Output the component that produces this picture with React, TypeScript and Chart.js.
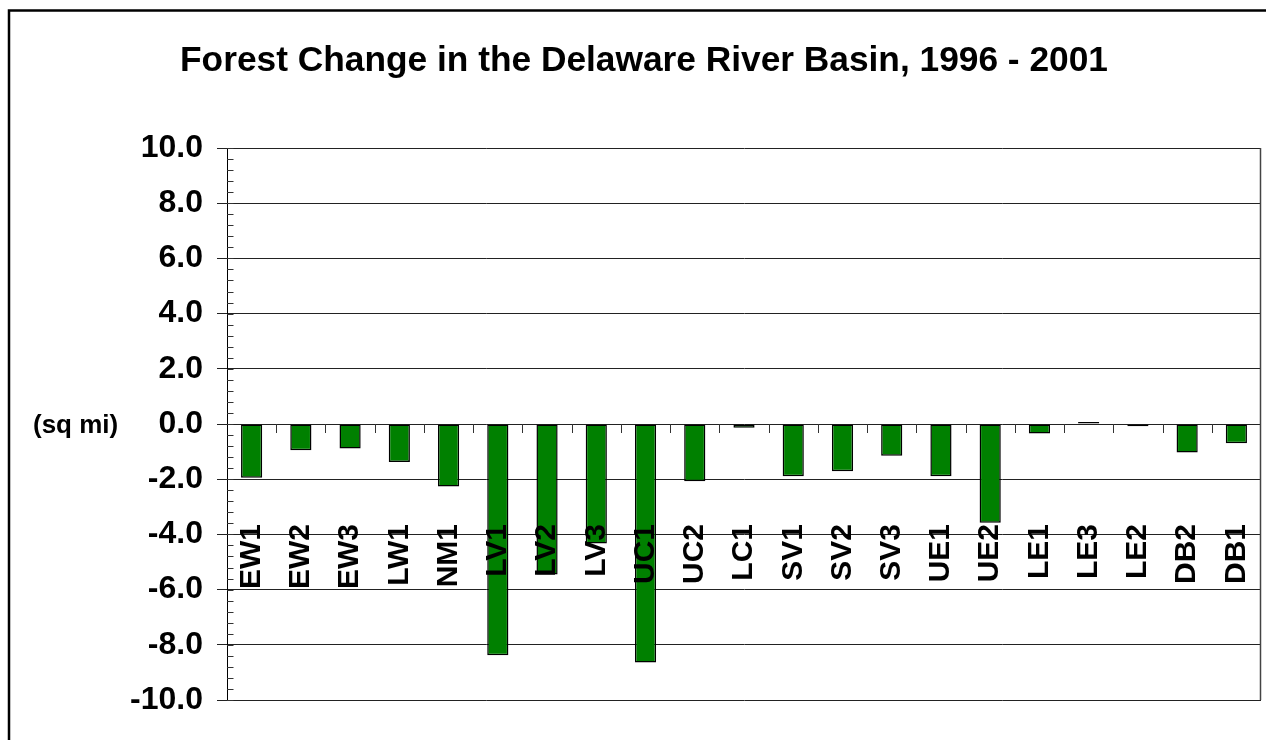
import React, { useEffect, useRef } from "react";
import { Chart, registerables } from "chart.js";

Chart.register(...registerables);

const TITLE = "Forest Change in the Delaware River Basin, 1996 - 2001";
const Y_UNIT_LABEL = "(sq mi)";
const CATEGORIES = [
  "EW1", "EW2", "EW3", "LW1", "NM1", "LV1", "LV2", "LV3", "UC1", "UC2", "LC1",
  "SV1", "SV2", "SV3", "UE1", "UE2", "LE1", "LE3", "LE2", "DB2", "DB1",
];
const FOREST_CHANGE = [
  -1.95, -0.95, -0.89, -1.38, -2.26, -8.38, -5.45, -4.33, -8.64, -2.07, -0.14,
  -1.89, -1.71, -1.15, -1.89, -3.58, -0.34, 0.07, -0.08, -1.03, -0.70,
];
const Y_MIN = -10;
const Y_MAX = 10;
const Y_STEP = 2;
const Y_MINOR_STEP = 0.4;

const FONT = "'Liberation Sans', Arial, Helvetica, sans-serif";

const decorPlugin = {
  id: "decor",
  beforeDraw(chart: any) {
    const ctx = chart.ctx;
    ctx.save();
    ctx.fillStyle = "#ffffff";
    ctx.fillRect(0, 0, chart.width, chart.height);
    // outer frame (left and top edges visible)
    ctx.strokeStyle = "#000000";
    ctx.lineWidth = 2.5;
    ctx.beginPath();
    ctx.moveTo(9, chart.height + 2);
    ctx.lineTo(9, 10.5);
    ctx.lineTo(chart.width + 2, 10.5);
    ctx.stroke();
    // title
    ctx.fillStyle = "#000000";
    ctx.font = `bold 35.3px ${FONT}`;
    ctx.textAlign = "center";
    ctx.textBaseline = "alphabetic";
    ctx.fillText(TITLE, 644, 71);
    ctx.restore();
  },
  beforeDatasetsDraw(chart: any) {
    const ctx = chart.ctx;
    const area = chart.chartArea;
    const ys = chart.scales.y;
    ctx.save();
    // minor ticks inside y axis
    ctx.strokeStyle = "#333333";
    ctx.lineWidth = 1;
    ctx.beginPath();
    const n = Math.round((Y_MAX - Y_MIN) / Y_MINOR_STEP);
    for (let i = 0; i <= n; i++) {
      const v = Y_MIN + i * Y_MINOR_STEP;
      const y = Math.round(ys.getPixelForValue(v)) + 0.5;
      ctx.moveTo(area.left, y);
      ctx.lineTo(area.left + 6.5, y);
    }
    ctx.stroke();
    // category tick marks below zero line
    const y0 = ys.getPixelForValue(0);
    const w = (area.right - area.left) / CATEGORIES.length;
    ctx.beginPath();
    for (let k = 1; k < CATEGORIES.length; k++) {
      const x = Math.round(area.left + k * w) + 0.5;
      ctx.moveTo(x, y0);
      ctx.lineTo(x, y0 + 9);
    }
    ctx.stroke();
    ctx.restore();
  },
  afterDatasetsDraw(chart: any) {
    const ctx = chart.ctx;
    const area = chart.chartArea;
    const ys = chart.scales.y;
    const xs = chart.scales.x;
    const y0 = ys.getPixelForValue(0);
    ctx.save();
    // right border of plot area
    ctx.strokeStyle = "#444444";
    ctx.lineWidth = 1.5;
    ctx.beginPath();
    ctx.moveTo(area.right - 0.5, area.top);
    ctx.lineTo(area.right - 0.5, area.bottom);
    ctx.stroke();
    // rotated category labels
    ctx.fillStyle = "#000000";
    ctx.font = `bold 30px ${FONT}`;
    ctx.textAlign = "right";
    ctx.textBaseline = "middle";
    CATEGORIES.forEach((c, i) => {
      const x = xs.getPixelForValue(i);
      ctx.save();
      ctx.translate(x, y0 + 100);
      ctx.rotate(-Math.PI / 2);
      ctx.fillText(c, 0, 0);
      ctx.restore();
    });
    // unit label
    ctx.font = `bold 26px ${FONT}`;
    ctx.textAlign = "left";
    ctx.textBaseline = "middle";
    ctx.fillText(Y_UNIT_LABEL, 33, y0 + 2);
    ctx.restore();
  },
};

export default function App() {
  const ref = useRef<HTMLCanvasElement | null>(null);
  useEffect(() => {
    if (!ref.current) return;
    const chart = new Chart(ref.current, {
      type: "bar",
      data: {
        labels: CATEGORIES,
        datasets: [
          {
            label: "Forest change (sq mi)",
            data: FOREST_CHANGE,
            backgroundColor: "#008000",
            borderColor: "#000000",
            borderWidth: 1.5,
            borderSkipped: false,
            barPercentage: 0.43,
            categoryPercentage: 1,
          },
        ],
      },
      options: {
        responsive: false,
        animation: false,
        layout: { padding: { top: 148, right: 5, bottom: 40, left: 0 } },
        plugins: {
          legend: { display: false },
          tooltip: { enabled: false },
          title: { display: false },
        },
        scales: {
          x: { display: false, offset: true },
          y: {
            min: Y_MIN,
            max: Y_MAX,
            ticks: {
              stepSize: Y_STEP,
              padding: 14,
              color: "#000000",
              font: { family: FONT, size: 32, weight: "bold" },
              callback: (v: any) => Number(v).toFixed(1),
            },
            grid: { color: "#222222", lineWidth: 1, tickLength: 10, drawTicks: true },
            border: { display: true, color: "#000000", width: 1 },
            afterFit: (s: any) => {
              s.width = 227;
            },
          },
        },
      },
      plugins: [decorPlugin],
    });
    return () => chart.destroy();
  }, []);
  return (
    <div style={{ position: "fixed", left: 0, top: 0, width: 1266, height: 740, background: "#fff" }}>
      <canvas ref={ref} width={1266} height={740} style={{ display: "block" }} />
    </div>
  );
}
